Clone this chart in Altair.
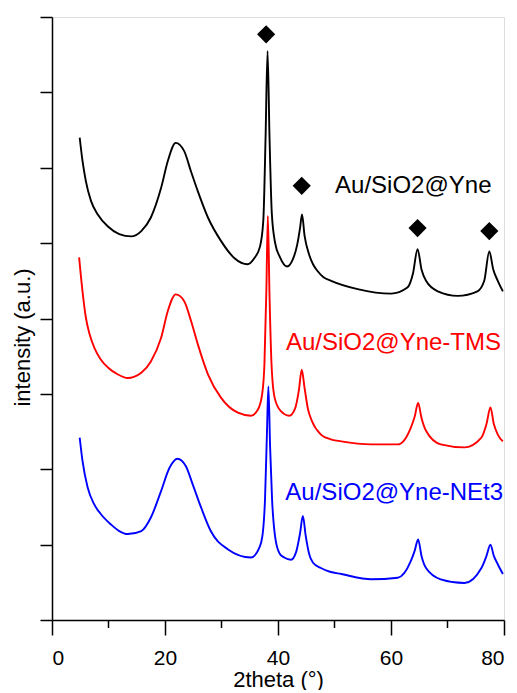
import altair as alt
import pandas as pd

# ---- data ----
series_names = ["Au/SiO2@Yne", "Au/SiO2@Yne-TMS", "Au/SiO2@Yne-NEt3"]
series_colors = ["#000000", "#ff0000", "#0000ff"]

x_black = [4.9, 5.4, 6.0, 6.9, 8.1, 9.9, 11.9, 14.0, 15.8, 17.5, 19.3, 20.5, 21.9, 23.4, 24.6, 25.8, 27.6, 29.9,
           32.3, 34.6, 35.8, 36.8, 37.4, 37.8, 38.15, 38.5, 38.9, 39.5, 40.3, 41.6, 42.6, 43.4, 43.9, 44.25, 44.7,
           45.5, 46.2, 47.0, 48.0, 49.4, 54.1, 60.0, 62.9, 63.9, 64.7, 65.4, 66.2, 68.3, 71.8, 75.3, 76.5, 77.4,
           78.1, 78.9, 79.8]
y_black = [6.40, 6.09, 5.82, 5.56, 5.38, 5.22, 5.12, 5.09, 5.16, 5.34, 5.73, 6.09, 6.33, 6.22, 5.95, 5.69, 5.34, 5.03,
           4.80, 4.72, 4.80, 4.95, 5.3, 6.4, 7.55, 6.4, 5.4, 5.0, 4.82, 4.69, 4.78, 4.98, 5.2, 5.38, 5.1,
           4.85, 4.72, 4.63, 4.55, 4.50, 4.39, 4.33, 4.41, 4.6, 4.92, 4.65, 4.50, 4.36, 4.30, 4.36, 4.5, 4.89,
           4.65, 4.50, 4.36]

x_red = [4.8, 5.4, 6.0, 6.7, 7.5, 8.6, 9.9, 11.6, 13.4, 15.8, 17.5, 19.3, 20.5, 21.9, 23.4, 24.6, 25.8, 27.6, 29.9,
         32.9, 35.2, 36.5, 37.2, 37.6, 37.95, 38.2, 38.5, 38.85, 39.4, 40.5, 42.0, 43.0, 43.7, 44.2, 44.7, 45.3,
         46.0, 47.6, 49.2, 51.2, 56.5, 61.2, 63.5, 64.2, 64.8, 65.4, 66.2, 68.8, 73.0, 76.0, 76.9, 77.6, 78.2,
         78.9, 79.8]
y_red = [4.81, 4.36, 4.01, 3.78, 3.61, 3.46, 3.35, 3.26, 3.21, 3.28, 3.43, 3.74, 4.10, 4.32, 4.23, 3.97, 3.66, 3.26,
         2.95, 2.75, 2.71, 2.8, 3.0, 3.4, 4.4, 5.36, 4.3, 3.4, 2.95, 2.77, 2.71, 2.8, 3.05, 3.32, 3.08, 2.8,
         2.64, 2.46, 2.40, 2.37, 2.33, 2.33, 2.55, 2.7, 2.88, 2.68, 2.51, 2.33, 2.29, 2.42, 2.6, 2.82, 2.6,
         2.46, 2.37]

x_blue = [4.9, 5.4, 6.3, 7.5, 8.7, 10.4, 11.9, 13.4, 15.8, 17.5, 19.3, 20.8, 22.2, 23.7, 24.9, 26.4, 28.1, 31.1,
          35.2, 36.7, 37.3, 37.7, 38.05, 38.3, 38.6, 38.95, 39.5, 40.3, 41.1, 42.3, 43.2, 43.9, 44.4, 44.9, 45.5,
          46.2, 47.6, 49.2, 51.2, 56.5, 61.2, 63.5, 64.2, 64.8, 65.4, 66.2, 68.8, 73.0, 76.0, 76.9, 77.6, 78.2,
          78.9, 79.8]
y_blue = [2.42, 2.11, 1.76, 1.53, 1.40, 1.27, 1.18, 1.14, 1.18, 1.36, 1.71, 2.02, 2.14, 2.04, 1.80, 1.49, 1.18, 0.94,
          0.83, 0.96, 1.15, 1.6, 2.5, 3.10, 2.3, 1.6, 1.1, 0.88, 0.83, 0.80, 0.9, 1.15, 1.38, 1.12, 0.88,
          0.76, 0.69, 0.64, 0.61, 0.54, 0.56, 0.78, 0.92, 1.07, 0.85, 0.69, 0.54, 0.49, 0.69, 0.85, 1.00, 0.85,
          0.74, 0.61]

marker_x = [37.9, 44.2, 64.7, 77.4]
marker_y = [7.77, 5.76, 5.20, 5.16]

label_x = [50.1, 41.4, 41.3]
label_y = [5.76, 3.68, 1.69]

x_major = [0, 20, 40, 60, 80]
x_minor = [10, 30, 50, 70]
y_ticks = [0, 1, 2, 3, 4, 5, 6, 7, 8]

# ---- tables ----
rows = []
for name, xs, ys in zip(series_names, [x_black, x_red, x_blue], [y_black, y_red, y_blue]):
    for i, (a, b) in enumerate(zip(xs, ys)):
        rows.append({"series": name, "x": a, "y": b, "order": i})
lines_df = pd.DataFrame(rows)
markers_df = pd.DataFrame({"x": marker_x, "y": marker_y})
labels_df = pd.DataFrame({"x": label_x, "y": label_y, "series": series_names})
minor_df = pd.DataFrame({"x": x_minor})

W, H = 452, 603
FONT = "Liberation Sans"

xscale = alt.Scale(domain=[0, 80], nice=False, zero=False)
yscale = alt.Scale(domain=[0, 8], nice=False, zero=False)
cscale = alt.Scale(domain=series_names, range=series_colors)

xaxis = alt.Axis(values=x_major, title="2theta (°)", grid=False, tickSize=15, tickWidth=1.5,
                 domainWidth=1.5, domainColor="black", tickColor="black", labelFontSize=21,
                 labelColor="black", labelPadding=12, titleFontSize=22, titleFontWeight="normal",
                 titleColor="black", titlePadding=1, labelFont=FONT, titleFont=FONT, format="d")
yaxis = alt.Axis(values=y_ticks, title="intensity (a.u.)", grid=False, labels=False, tickSize=12,
                 tickWidth=1.5, domainWidth=1.5, domainColor="black", tickColor="black",
                 titleFontSize=22, titleFontWeight="normal", titleColor="black", titlePadding=5,
                 titleFont=FONT, titleY=320)

lines = alt.Chart(lines_df).mark_line(strokeWidth=1.9, interpolate="monotone").encode(
    x=alt.X("x:Q", scale=xscale, axis=xaxis),
    y=alt.Y("y:Q", scale=yscale, axis=yaxis),
    color=alt.Color("series:N", scale=cscale, legend=None),
    detail="series:N",
    order="order:Q",
)

minor = alt.Chart(minor_df).mark_rule(color="black", strokeWidth=1.5).encode(
    x=alt.X("x:Q", scale=xscale),
    y=alt.value(H),
    y2=alt.value(H + 8),
)

markers = alt.Chart(markers_df).mark_point(shape="diamond", filled=True, size=330, color="black",
                                           opacity=1).encode(
    x=alt.X("x:Q", scale=xscale),
    y=alt.Y("y:Q", scale=yscale),
)

labels = alt.Chart(labels_df).mark_text(align="left", baseline="middle", fontSize=24, font=FONT).encode(
    x=alt.X("x:Q", scale=xscale),
    y=alt.Y("y:Q", scale=yscale),
    text="series:N",
    color=alt.Color("series:N", scale=cscale, legend=None),
)

chart = alt.layer(lines, minor, markers, labels).properties(
    width=W, height=H,
    padding={"left": 3, "top": 8, "right": 0, "bottom": 0},
).configure_view(stroke=None).configure(background="white")

chart.save("out.html", embed_options={"renderer": "svg", "actions": False})
